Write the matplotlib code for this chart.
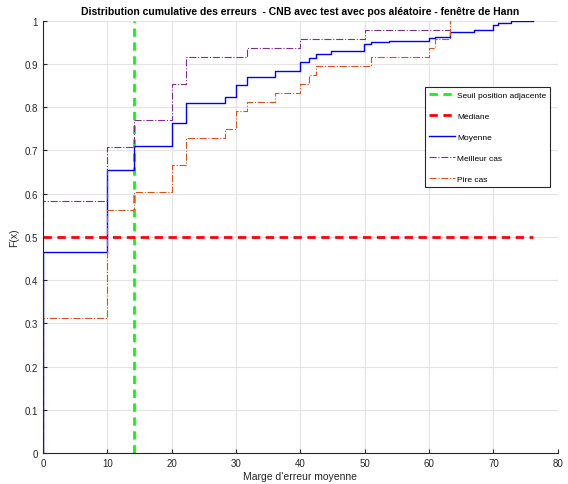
import matplotlib
matplotlib.use("Agg")
import matplotlib.pyplot as plt

plt.rcParams['font.family'] = ['Liberation Sans', 'DejaVu Sans']

# Seuil et médiane
seuil = 14.1
mediane = 0.5
mediane_xmax = 76.2

# Moyenne
x_moy = [0, 0, 10, 14.1, 20, 22.3, 28.3, 30, 31.7, 36.1, 40, 41.3, 42.4, 44.7,
         49.9, 50.9, 53.7, 60, 60.9, 63.2, 67.0, 69.9, 70.7, 72.7, 76.2]
y_moy = [0, 0.465, 0.655, 0.711, 0.764, 0.809, 0.823, 0.852, 0.871, 0.885,
         0.905, 0.913, 0.924, 0.931, 0.947, 0.950, 0.953, 0.960, 0.963, 0.974,
         0.979, 0.991, 0.995, 0.999, 0.999]

# Meilleur cas
x_best = [0, 0, 10, 14.1, 20, 22.3, 31.7, 40, 50, 63.2]
y_best = [0, 0.583, 0.708, 0.771, 0.854, 0.917, 0.9375, 0.958, 0.979, 1.0]

# Pire cas
x_worst = [0, 0, 10, 14.1, 20, 22.3, 28.3, 30, 31.7, 36.1, 40, 41.3, 42.4,
           50.9, 60, 60.9, 63.2]
y_worst = [0, 0.3125, 0.5625, 0.604, 0.667, 0.729, 0.75, 0.792, 0.8125, 0.833,
           0.854, 0.875, 0.896, 0.917, 0.9375, 0.958, 1.0]

fig = plt.figure(figsize=(5.68, 4.85), dpi=100)
ax = fig.add_axes([0.0757, 0.064, 0.9063, 0.891])

ax.plot([seuil, seuil], [0, 1], '--', color='#00ff00', lw=2, dashes=(3, 2),
        label='Seuil position adjacente')
ax.plot([0, mediane_xmax], [mediane, mediane], '--', color='#ff0000', lw=2,
        dashes=(3, 2), label='Médiane')
ax.plot(x_moy, y_moy, '-', color='#0000ff', lw=1, drawstyle='steps-post',
        label='Moyenne')
ax.plot(x_best, y_best, '-.', color='#7e2f8e', lw=0.8, drawstyle='steps-post',
        label='Meilleur cas')
ax.plot(x_worst, y_worst, '-.', color='#d95319', lw=0.8, drawstyle='steps-post',
        label='Pire cas')

ax.set_xlim(0, 80)
ax.set_ylim(0, 1)
ax.set_xticks(range(0, 81, 10))
ax.set_yticks([i / 10 for i in range(11)])
ax.set_yticklabels(['0', '0.1', '0.2', '0.3', '0.4', '0.5', '0.6', '0.7', '0.8', '0.9', '1'])
ax.grid(True, color='#e3e3e3', lw=0.8)
ax.set_axisbelow(True)
for s in ['top', 'right']:
    ax.spines[s].set_visible(False)
for s in ['left', 'bottom']:
    ax.spines[s].set_color('#262626')
    ax.spines[s].set_linewidth(0.8)
ax.tick_params(direction='in', length=3, labelsize=7, colors='#262626')

ax.set_xlabel("Marge d'erreur moyenne", fontsize=7.5, color='#262626', labelpad=2)
ax.set_ylabel("F(x)", fontsize=7.5, color='#262626', labelpad=4)
ax.set_title("Distribution cumulative des erreurs  - CNB avec test avec pos aléatoire - fenêtre de Hann",
             fontsize=7.5, fontweight='bold', pad=5)

leg = ax.legend(loc='upper left', bbox_to_anchor=(0.742, 0.847), fontsize=6,
                fancybox=False, edgecolor='#262626', framealpha=1,
                labelspacing=1.6, handlelength=3.2, handletextpad=0.2,
                borderpad=0.45, borderaxespad=0)
leg.get_frame().set_linewidth(0.8)

fig.savefig('out.png', dpi=100)
